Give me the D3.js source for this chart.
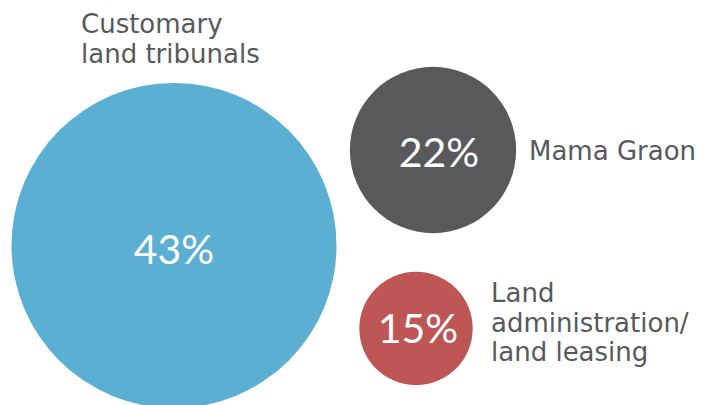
<!DOCTYPE html>
<html>
<head>
<meta charset="utf-8">
<script src="https://cdn.jsdelivr.net/npm/d3@7"></script>
<style>
  html, body { margin: 0; padding: 0; background: #fff; }
  svg { display: block; }
</style>
</head>
<body>
<div class="bubble_chart"></div>
<script>
const WIDTH = 712;
const HEIGHT = 405;

// data
const categories = ['Customary land tribunals', 'Mama Graon', 'Land administration/ land leasing'];
const values = [43, 22, 15];
const labelLines = [
	['Customary', 'land tribunals'],
	['Mama Graon'],
	['Land', 'administration/', 'land leasing']
];

// layout (hand packed, like the original)
const CENTERS = [[174, 245.5], [433, 150], [416, 328.5]];
const LABEL_POS = [[81, 33], [529, 160], [491, 302]];
const COLORS = ['#5aafd3', '#58595b', '#be5656'];

const svg = d3
	.select('.bubble_chart')
	.append('svg')
	.attr('width', WIDTH)
	.attr('height', HEIGHT);

// radius grows with the value
const rScale = d3.scaleLinear()
	.domain([0, d3.max(values)])
	.range([0, 162.5]);

const color = d3.scaleOrdinal()
	.domain(categories)
	.range(COLORS);

const nodes = categories.map((c, i) => ({
	name: c,
	value: values[i],
	x: CENTERS[i][0],
	y: CENTERS[i][1],
	lines: labelLines[i],
	lx: LABEL_POS[i][0],
	ly: LABEL_POS[i][1]
}));

svg.selectAll('circle')
	.data(nodes)
	.enter()
	.append('circle')
	.attr('cx', d => d.x)
	.attr('cy', d => d.y)
	.attr('r', d => rScale(d.value))
	.attr('fill', d => color(d.name));

// percentage inside each bubble
svg.selectAll('.pct')
	.data(nodes)
	.enter()
	.append('text')
	.attr('class', 'pct')
	.attr('x', (d, i) => d.x + [0, 6, 2][i])
	.attr('y', (d, i) => d.y + [18.5, 17, 14.5][i])
	.attr('text-anchor', 'middle')
	.style('font-family', 'Lato, sans-serif')
	.style('font-weight', 400)
	.style('font-size', '41px')
	.style('fill', '#fff')
	.text(d => d.value + '%');

// category labels
const labels = svg.selectAll('.label')
	.data(nodes)
	.enter()
	.append('text')
	.attr('class', 'label')
	.attr('x', d => d.lx)
	.attr('y', d => d.ly)
	.style('font-family', '"DejaVu Sans", sans-serif')
	.style('font-size', '26px')
	.style('fill', '#58595b');

labels.selectAll('tspan')
	.data(d => d.lines.map(l => ({ t: l, x: d.lx })))
	.enter()
	.append('tspan')
	.attr('x', d => d.x)
	.attr('dy', (d, i) => i === 0 ? 0 : 29.5)
	.text(d => d.t);
</script>
</body>
</html>
